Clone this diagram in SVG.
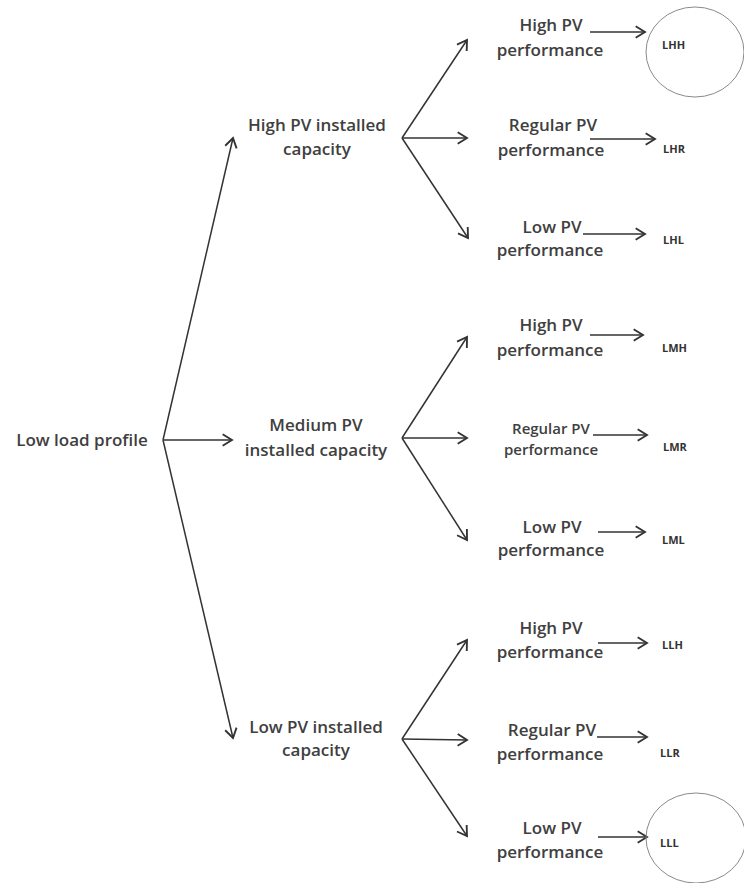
<svg xmlns="http://www.w3.org/2000/svg" width="744" height="883" viewBox="0 0 744 883">
<defs>
<marker id="ah" markerUnits="userSpaceOnUse" markerWidth="14" markerHeight="14" refX="10" refY="6" orient="auto" viewBox="0 0 12 12">
<path d="M2,1 L10,6 L2,11" fill="none" stroke="#333" stroke-width="1.6" stroke-linejoin="miter"/>
</marker>
<style>
.t{font-family:"Open Sans","Noto Sans",sans-serif;font-size:17px;font-weight:600;fill:#404040;text-anchor:middle}
.s{font-size:15px}
.lb{font-family:"Open Sans","Noto Sans",sans-serif;font-size:11px;font-weight:bold;fill:#333}
.c{stroke:#333;stroke-width:1.5;fill:none;marker-end:url(#ah)}
.ring{fill:none;stroke:#8a8a8a;stroke-width:1}
</style>
</defs>
<rect width="744" height="883" fill="#fff"/>
<g id="connectors">
<line class="c" x1="163" y1="440" x2="233" y2="138"/>
<line class="c" x1="163" y1="440" x2="232" y2="440"/>
<line class="c" x1="163" y1="440" x2="233" y2="738"/>
<line class="c" x1="402" y1="138" x2="467" y2="40"/>
<line class="c" x1="402" y1="138" x2="467" y2="138"/>
<line class="c" x1="402" y1="138" x2="468" y2="238"/>
<line class="c" x1="402" y1="438" x2="467" y2="337"/>
<line class="c" x1="402" y1="438" x2="467" y2="438"/>
<line class="c" x1="402" y1="438" x2="467" y2="540"/>
<line class="c" x1="402" y1="739" x2="467" y2="640"/>
<line class="c" x1="402" y1="739" x2="467" y2="740"/>
<line class="c" x1="402" y1="739" x2="467" y2="836"/>
<line class="c" x1="590" y1="32" x2="645" y2="32"/>
<line class="c" x1="590" y1="139" x2="655" y2="139"/>
<line class="c" x1="583" y1="234" x2="645" y2="234"/>
<line class="c" x1="590" y1="335" x2="643" y2="335"/>
<line class="c" x1="593" y1="435" x2="647" y2="435"/>
<line class="c" x1="598" y1="532" x2="645" y2="532"/>
<line class="c" x1="598" y1="643" x2="647" y2="643"/>
<line class="c" x1="597" y1="737" x2="647" y2="737"/>
<line class="c" x1="598" y1="837" x2="647" y2="837"/>
</g>
<g id="root"><text class="t" x="82" y="446">Low load profile</text></g>
<g id="high-cap"><text class="t" x="317" y="131">High PV installed</text><text class="t" x="317" y="155">capacity</text></g>
<g id="medium-cap"><text class="t" x="316" y="431">Medium PV</text><text class="t" x="316" y="456">installed capacity</text></g>
<g id="low-cap"><text class="t" x="316" y="733">Low PV installed</text><text class="t" x="316" y="756">capacity</text></g>
<g id="hh"><text class="t" x="551" y="31">High PV</text><text class="t" x="550" y="56">performance</text></g>
<g id="hr"><text class="t" x="553" y="131">Regular PV</text><text class="t" x="551" y="156">performance</text></g>
<g id="hl"><text class="t" x="552" y="233">Low PV</text><text class="t" x="550" y="256">performance</text></g>
<g id="mh"><text class="t" x="551" y="331">High PV</text><text class="t" x="550" y="356">performance</text></g>
<g id="mr"><text class="t s" x="551" y="434">Regular PV</text><text class="t s" x="551" y="455">performance</text></g>
<g id="ml"><text class="t" x="552" y="533">Low PV</text><text class="t" x="551" y="556">performance</text></g>
<g id="lh"><text class="t" x="551" y="634">High PV</text><text class="t" x="550" y="658">performance</text></g>
<g id="lr"><text class="t" x="552" y="736">Regular PV</text><text class="t" x="550" y="760">performance</text></g>
<g id="ll"><text class="t" x="552" y="834">Low PV</text><text class="t" x="550" y="858">performance</text></g>
<g id="LHH"><ellipse class="ring" cx="695" cy="52" rx="49" ry="45"/><text class="lb" x="662" y="49">LHH</text></g>
<g id="LHR"><text class="lb" x="663" y="153">LHR</text></g>
<g id="LHL"><text class="lb" x="663" y="244">LHL</text></g>
<g id="LMH"><text class="lb" x="662" y="352">LMH</text></g>
<g id="LMR"><text class="lb" x="663" y="451">LMR</text></g>
<g id="LML"><text class="lb" x="662" y="544">LML</text></g>
<g id="LLH"><text class="lb" x="662" y="649">LLH</text></g>
<g id="LLR"><text class="lb" x="660" y="757">LLR</text></g>
<g id="LLL"><ellipse class="ring" cx="696" cy="838" rx="50" ry="45"/><text class="lb" x="660" y="847">LLL</text></g>
</svg>
